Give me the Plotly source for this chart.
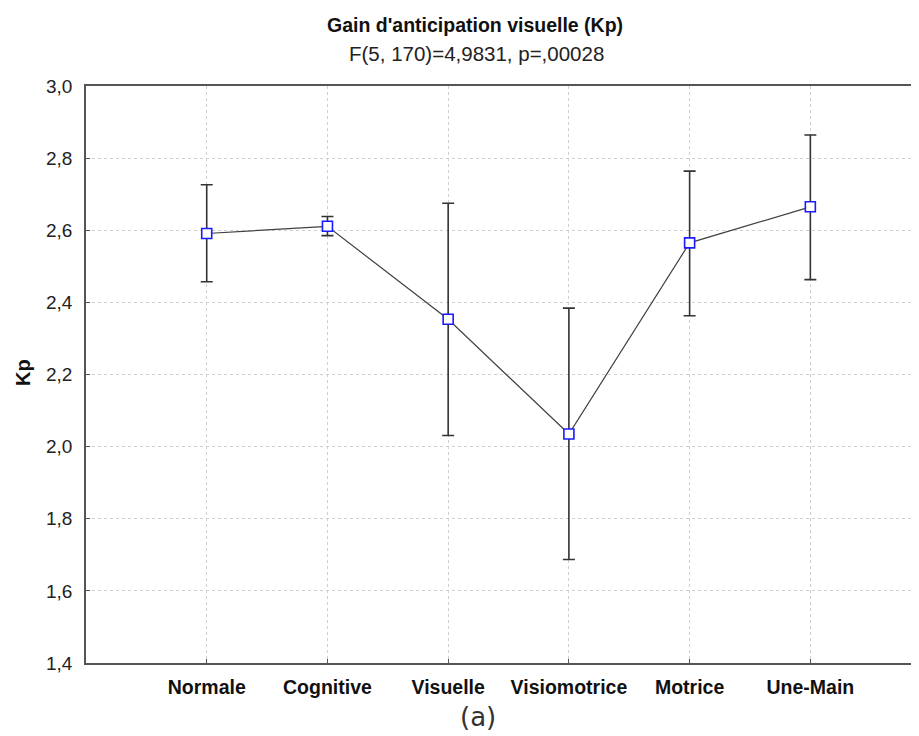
import plotly.graph_objects as go

categories = ["Normale", "Cognitive", "Visuelle", "Visiomotrice", "Motrice", "Une-Main"]
means = [2.591, 2.611, 2.353, 2.035, 2.565, 2.665]
upper = [2.726, 2.638, 2.675, 2.384, 2.764, 2.864]
lower = [2.457, 2.585, 2.031, 1.687, 2.363, 2.463]
y_ticks = [1.4, 1.6, 1.8, 2.0, 2.2, 2.4, 2.6, 2.8, 3.0]
y_tick_labels = [f"{v:.1f}".replace(".", ",") for v in y_ticks]

xs = list(range(len(categories)))
err_plus = [u - m for u, m in zip(upper, means)]
err_minus = [m - l for m, l in zip(means, lower)]

# page body has an 8px margin; compensate
OFF = 8
W, H = 919 - OFF, 736 - OFF
PL, PR, PT, PB = 86, 919, 86, 663  # plot area in screen pixels
L, T = PL - OFF, PT - OFF
R = (W + OFF) - PR
B = (H + OFF) - PB


def px(sx):
    return (sx - PL) / (PR - PL)


def py(sy):
    return (PB - sy) / (PB - PT)


fig = go.Figure()
fig.add_trace(go.Scatter(
    x=xs, y=means, mode="lines+markers",
    line=dict(color="#404040", width=1.2),
    marker=dict(symbol="square", size=10, color="white",
                line=dict(color="#1a1aff", width=1.6)),
    error_y=dict(type="data", symmetric=False, array=err_plus, arrayminus=err_minus,
                 color="#333333", thickness=1.6, width=6),
    showlegend=False,
))

FONT = "Liberation Sans, Arial, sans-serif"

fig.update_layout(
    width=W, height=H,
    margin=dict(l=L, r=R, t=T, b=B, pad=0),
    paper_bgcolor="white", plot_bgcolor="white",
    font=dict(family=FONT, color="#222222", size=16),
    xaxis=dict(
        range=[-1, 5.9], tickmode="array", tickvals=xs,
        ticktext=[f"<b>{c}</b>" for c in categories],
        showgrid=True, gridcolor="#cfcfcf", griddash="dot", gridwidth=1,
        showline=True, linecolor="#555555", linewidth=1.5, mirror=True,
        ticks="inside", ticklen=4, tickcolor="#555555", ticklabelstandoff=6,
        tickfont=dict(size=19.5, color="#111111"), zeroline=False,
    ),
    yaxis=dict(
        range=[1.4, 3.0], tickmode="array", tickvals=y_ticks, ticktext=y_tick_labels,
        showgrid=True, gridcolor="#cfcfcf", griddash="dot", gridwidth=1,
        showline=True, linecolor="#555555", linewidth=1.5, mirror=False,
        ticks="inside", ticklen=4, tickcolor="#555555", ticklabelstandoff=8,
        tickfont=dict(size=19, color="#222222"), zeroline=False,
    ),
    annotations=[
        dict(text="<b>Gain d'anticipation visuelle (Kp)</b>", x=px(475), y=py(25),
             xref="paper", yref="paper", yanchor="middle", xanchor="center", showarrow=False,
             font=dict(size=19.5, color="#111111", family=FONT)),
        dict(text="F(5, 170)=4,9831, p=,00028", x=px(476), y=py(53),
             xref="paper", yref="paper", yanchor="middle", xanchor="center", showarrow=False,
             font=dict(size=20.5, color="#222222", family=FONT)),
        dict(text="<b>Kp</b>", x=px(23), y=py(373), textangle=-90,
             xref="paper", yref="paper", yanchor="middle", xanchor="center", showarrow=False,
             font=dict(size=20, color="#111111", family=FONT)),
        dict(text="(a)", x=px(478), y=py(717),
             xref="paper", yref="paper", yanchor="middle", xanchor="center", showarrow=False,
             font=dict(size=26, color="#333333", family="DejaVu Sans, Verdana, sans-serif")),
    ],
)

fig.write_html("out.html")
